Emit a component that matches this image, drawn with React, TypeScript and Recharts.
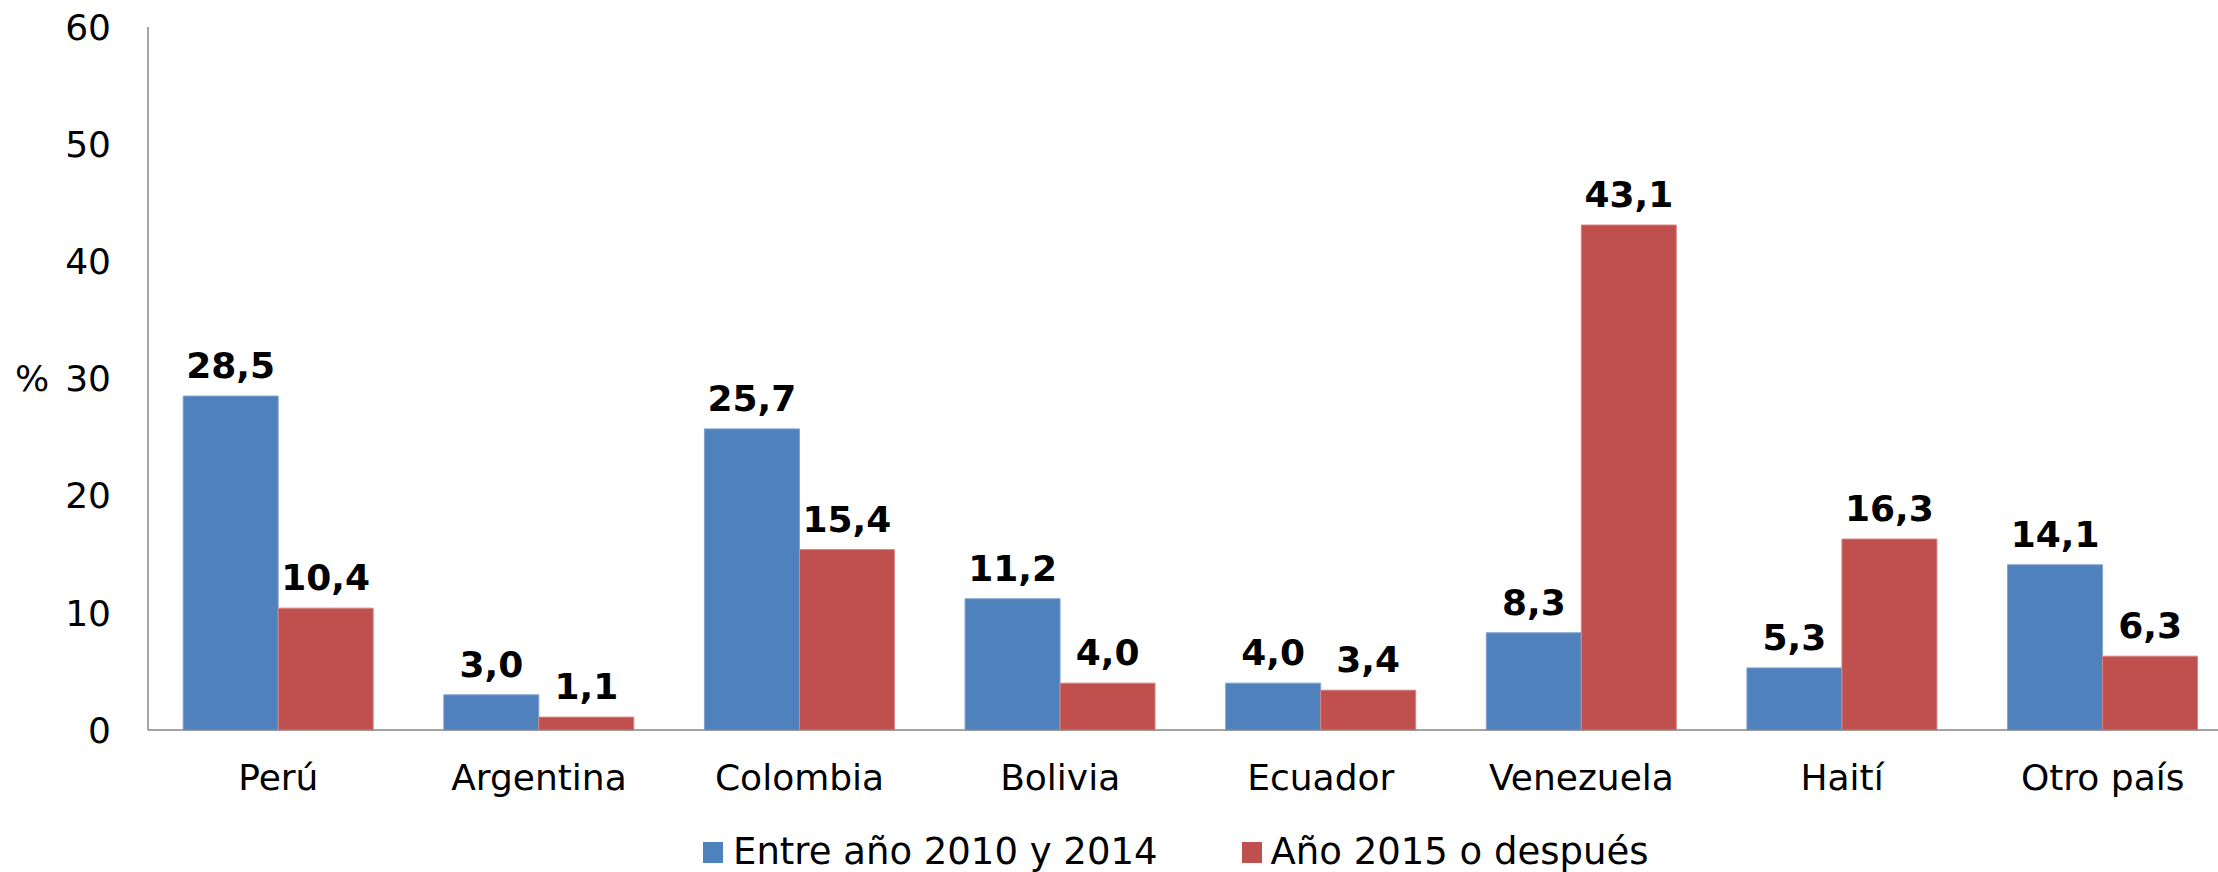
import React from 'react';
import { BarChart, Bar, XAxis, YAxis, Legend, LabelList } from 'recharts';

const categories = ['Perú', 'Argentina', 'Colombia', 'Bolivia', 'Ecuador', 'Venezuela', 'Haití', 'Otro país'];
const serie2010a2014 = [28.5, 3.0, 25.7, 11.2, 4.0, 8.3, 5.3, 14.1];
const serie2015oDespues = [10.4, 1.1, 15.4, 4.0, 3.4, 43.1, 16.3, 6.3];
const yTicks = [0, 10, 20, 30, 40, 50, 60];
const seriesNames = ['Entre año 2010 y 2014', 'Año 2015 o después'];
const colors = ['#4F81BD', '#C0504D'];

const data = categories.map((c, i) => ({
  pais: c,
  a: serie2010a2014[i],
  b: serie2015oDespues[i],
}));

const FONT = '"DejaVu Sans", Verdana, sans-serif';
const fmt = (v: any) => Number(v).toFixed(1).replace('.', ',');

const LegendContent = () => (
  <div style={{ display: 'flex', alignItems: 'center', fontFamily: FONT, fontSize: 37, lineHeight: '36px', height: 36, color: '#000', whiteSpace: 'nowrap' }}>
    <span style={{ width: 20, height: 21, background: colors[0], display: 'inline-block', marginRight: 10 }} />
    <span>{seriesNames[0]}</span>
    <span style={{ width: 20, height: 21, background: colors[1], display: 'inline-block', marginLeft: 84, marginRight: 9 }} />
    <span>{seriesNames[1]}</span>
  </div>
);

export default function App() {
  return (
    <div style={{ position: 'absolute', left: 0, top: 0, width: 2218, height: 872, overflow: 'hidden', background: '#fff' }}>
      <BarChart
        width={2233}
        height={872}
        data={data}
        margin={{ top: 27, right: 0, bottom: 0, left: 0 }}
        barCategoryGap="13.5%"
        barGap={0}
      >
        <XAxis
          dataKey="pais"
          height={106}
          tickLine={false}
          tickSize={0}
          tickMargin={34}
          axisLine={{ stroke: '#868686', strokeWidth: 1.5 }}
          tick={{ fill: '#000', fontSize: 36, fontFamily: FONT }}
          interval={0}
        />
        <YAxis
          width={148}
          domain={[0, 60]}
          ticks={yTicks}
          tickLine={false}
          tickSize={0}
          tickMargin={37}
          axisLine={{ stroke: '#868686', strokeWidth: 1.5 }}
          tick={{ fill: '#000', fontSize: 36, fontFamily: FONT }}
          label={{ value: '%', position: 'insideLeft', offset: 15, fill: '#000', fontSize: 36, fontFamily: FONT }}
        />
        <Legend
          verticalAlign="bottom"
          content={<LegendContent />}
          wrapperStyle={{ top: 834, left: 703, width: 'auto', bottom: 'auto' }}
        />
        <Bar dataKey="a" name={seriesNames[0]} fill={colors[0]} stroke="#7FA2CF" strokeWidth={1} isAnimationActive={false}>
          <LabelList dataKey="a" position="top" offset={18} formatter={fmt} fill="#000" fontSize={36} fontWeight="bold" fontFamily={FONT} />
        </Bar>
        <Bar dataKey="b" name={seriesNames[1]} fill={colors[1]} stroke="#D58583" strokeWidth={1} isAnimationActive={false}>
          <LabelList dataKey="b" position="top" offset={18} formatter={fmt} fill="#000" fontSize={36} fontWeight="bold" fontFamily={FONT} />
        </Bar>
      </BarChart>
    </div>
  );
}
